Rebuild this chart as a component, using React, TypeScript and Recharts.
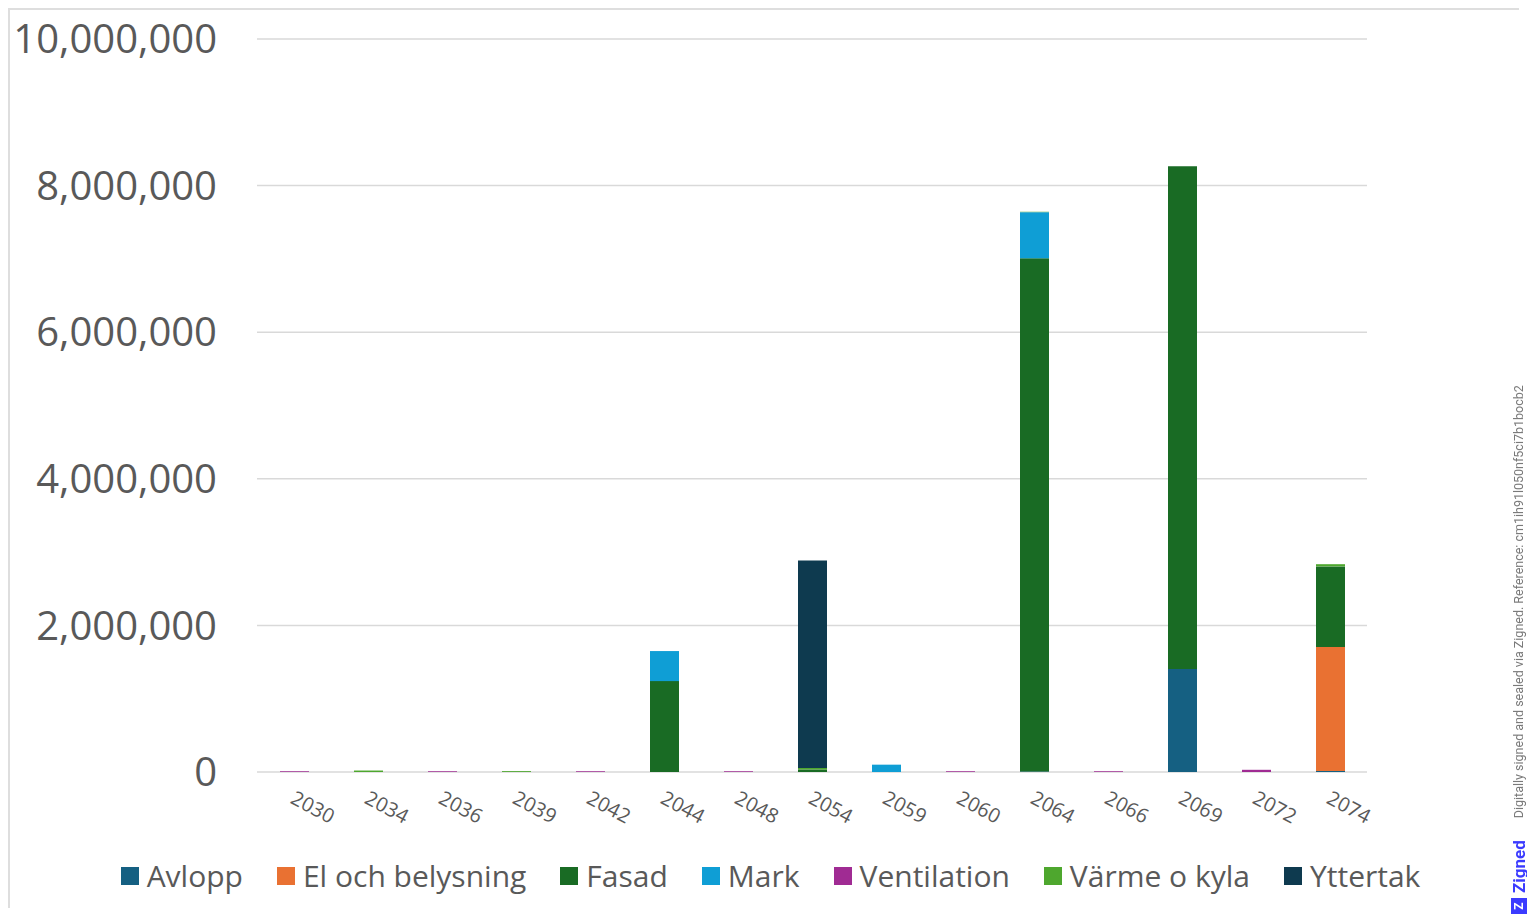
import { BarChart, Bar, XAxis, YAxis, CartesianGrid } from 'recharts';

const years = ['2030', '2034', '2036', '2039', '2042', '2044', '2048', '2054', '2059', '2060', '2064', '2066', '2069', '2072', '2074'];

const avlopp = [0, 0, 0, 0, 0, 0, 0, 0, 0, 0, 8000, 0, 1405000, 0, 15000];
const elBelysning = [0, 0, 0, 0, 0, 0, 0, 0, 0, 0, 0, 0, 0, 0, 1690000];
const fasad = [0, 0, 0, 0, 0, 1240000, 0, 35000, 0, 0, 7000000, 0, 6860000, 0, 1100000];
const mark = [0, 0, 0, 0, 0, 410000, 0, 0, 100000, 0, 630000, 0, 0, 0, 0];
const ventilation = [10000, 0, 10000, 0, 10000, 0, 10000, 0, 0, 10000, 0, 10000, 0, 30000, 0];
const varmeKyla = [0, 20000, 0, 12000, 0, 0, 0, 20000, 0, 0, 5000, 0, 0, 0, 30000];
const yttertak = [0, 0, 0, 0, 0, 0, 0, 2830000, 0, 0, 0, 0, 0, 0, 0];

const yTicks = [0, 2000000, 4000000, 6000000, 8000000, 10000000];

const series = [
  { key: 'avlopp', name: 'Avlopp', color: '#156082', values: avlopp },
  { key: 'el', name: 'El och belysning', color: '#E97132', values: elBelysning },
  { key: 'fasad', name: 'Fasad', color: '#196B24', values: fasad },
  { key: 'mark', name: 'Mark', color: '#0F9ED5', values: mark },
  { key: 'ventilation', name: 'Ventilation', color: '#A02B93', values: ventilation },
  { key: 'varme', name: 'Värme o kyla', color: '#4EA72E', values: varmeKyla },
  { key: 'yttertak', name: 'Yttertak', color: '#0E3A4F', values: yttertak },
];

const data = years.map((year, i) => {
  const row: Record<string, string | number> = { year };
  series.forEach((s) => {
    row[s.key] = s.values[i];
  });
  return row;
});

const FONT = '"Open Sans", sans-serif';

function YearTick({ x, y, payload }: any) {
  const tx = x + 2;
  const ty = y + 10;
  return (
    <text
      x={tx}
      y={ty}
      transform={`rotate(28, ${tx}, ${ty})`}
      textAnchor="start"
      dy="0.71em"
      fill="#595959"
      fontSize={20}
      fontFamily={FONT}
    >
      {payload.value}
    </text>
  );
}

export default function App() {
  return (
    <div style={{ position: 'relative', width: 1515, height: 900, overflow: 'hidden', fontFamily: FONT }}>
      <div
        style={{
          position: 'absolute',
          left: 0,
          top: 0,
          width: 1515,
          height: 910,
          boxSizing: 'border-box',
          border: '2px solid #dedede',
          background: '#fff',
        }}
      >
        <BarChart
          width={1511}
          height={830}
          data={data}
          margin={{ top: 29, right: 154, bottom: 0, left: 0 }}
          barSize={29}
        >
          <CartesianGrid vertical={false} stroke="#d9d9d9" strokeWidth={1.5} />
          <XAxis
            dataKey="year"
            axisLine={false}
            tickLine={false}
            height={68}
            interval={0}
            tick={<YearTick />}
          />
          <YAxis
            width={247}
            domain={[0, 10000000]}
            ticks={yTicks}
            axisLine={false}
            tickLine={false}
            tickSize={0}
            tickMargin={40}
            tick={{ fill: '#595959', fontSize: 40, fontFamily: FONT }}
            tickFormatter={(v: number) => v.toLocaleString('en-US')}
          />
          {series.map((s) => (
            <Bar key={s.key} dataKey={s.key} name={s.name} stackId="a" fill={s.color} isAnimationActive={false} />
          ))}
        </BarChart>
        <div
          style={{
            position: 'absolute',
            top: 846,
            left: 5,
            width: 1511,
            display: 'flex',
            justifyContent: 'center',
            gap: 34,
            fontSize: 30,
            color: '#595959',
            lineHeight: '40px',
          }}
        >
          {series.map((s) => (
            <div key={s.key} style={{ display: 'flex', alignItems: 'center', gap: 8 }}>
              <span style={{ width: 18, height: 18, background: s.color, display: 'inline-block' }} />
              <span>{s.name}</span>
            </div>
          ))}
        </div>
      </div>
      <div
        style={{
          position: 'fixed',
          left: 1510,
          top: 914,
          transform: 'rotate(-90deg)',
          transformOrigin: '0 0',
          display: 'flex',
          alignItems: 'center',
          whiteSpace: 'nowrap',
          height: 17,
          fontFamily: 'Roboto, sans-serif',
        }}
      >
        <span
          style={{
            background: '#3b3bff',
            color: '#fff',
            fontWeight: 700,
            fontSize: 12,
            width: 16,
            height: 16,
            display: 'inline-flex',
            alignItems: 'center',
            justifyContent: 'center',
          }}
        >
          Z
        </span>
        <span style={{ color: '#3b3bff', fontWeight: 700, fontSize: 17, marginLeft: 5 }}>Zigned</span>
        <span style={{ color: '#7a7a7a', fontSize: 12.5, marginLeft: 22 }}>
          Digitally signed and sealed via Zigned. Reference: cm1ih91l050nf5ci7b1bocb2
        </span>
      </div>
    </div>
  );
}
